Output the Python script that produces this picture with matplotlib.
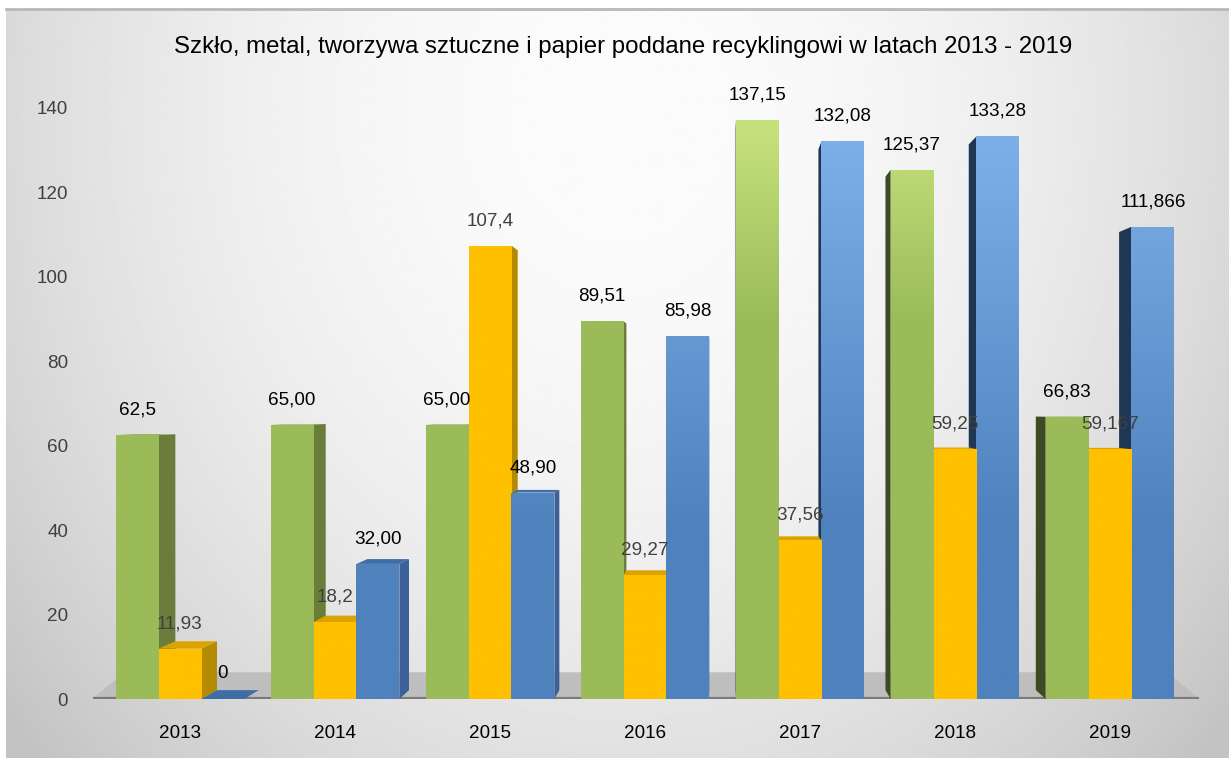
import numpy as np
import matplotlib
matplotlib.use('Agg')
import matplotlib.pyplot as plt
from matplotlib.patches import Polygon
from matplotlib.colors import to_rgb

# data
years = ['2013', '2014', '2015', '2016', '2017', '2018', '2019']
green_vals = [62.5, 65.00, 65.00, 89.51, 137.15, 125.37, 66.83]
yellow_vals = [11.93, 18.2, 107.4, 29.27, 37.56, 59.25, 59.167]
blue_vals = [0, 32.00, 48.90, 85.98, 132.08, 133.28, 111.866]
green_lbls = ['62,5', '65,00', '65,00', '89,51', '137,15', '125,37', '66,83']
yellow_lbls = ['11,93', '18,2', '107,4', '29,27', '37,56', '59,25', '59,167']
blue_lbls = ['0', '32,00', '48,90', '85,98', '132,08', '133,28', '111,866']
yticks = [0, 20, 40, 60, 80, 100, 120, 140]

plt.rcParams['font.family'] = ['Liberation Sans', 'DejaVu Sans']
fs = 13.6

W, H = 1229, 758
fig = plt.figure(figsize=(W / 100, H / 100), dpi=100)

# background with soft gradient, lighter at the top centre
bg = fig.add_axes([6 / W, 0, 1 - 6 / W, (H - 9) / H], zorder=-10)
gy, gx = np.mgrid[0:300, 0:400]
r2 = ((gx - 200) / 260.0) ** 2 + ((gy - 40) / 380.0) ** 2
shade = 0.985 - 0.22 * np.clip(r2, 0, 1)
bg.imshow(shade, cmap='gray', vmin=0, vmax=1, aspect='auto', extent=[0, 1, 1, 0],
          interpolation='bilinear')
bg.axis('off')
fig.add_artist(plt.Line2D([6 / W, 1], [1 - 9 / H, 1 - 9 / H], color='#b8b8b8', lw=2))

ax = fig.add_axes([93 / W, 59 / H, (1199 - 93) / W, (699 - 108) / H])
ax.patch.set_alpha(0)
x = np.arange(len(years))
x0, x1 = (93 - 180) / 155, (1199 - 180) / 155

# floor
ax.add_patch(Polygon([[0, 0], [1, 0], [0.971, 0.044], [0.029, 0.044]], closed=True,
                     transform=ax.transAxes, color='#bebebe', zorder=1))
ax.plot([0, 1], [0, 0], transform=ax.transAxes, color='#7a7a7a', lw=3, zorder=1.5,
        solid_capstyle='butt')

bw = 0.277
vp_x, eye, t = 3.48, 70, 0.03

series = [
    (green_vals, green_lbls, -bw, '#9bbb59', '#c8e47f', 90, 50, '#6a7d3a', '#3e4b22', '#8aa84a', 'black'),
    (yellow_vals, yellow_lbls, 0, '#ffc000', '#ffc000', 0, 1, '#b38a00', '#8a6a00', '#dba300', '#404040'),
    (blue_vals, blue_lbls, bw, '#4f81bd', '#80b3eb', 40, 100, '#3b6196', '#1f3654', '#3f6ea6', 'black'),
]

for vals, lbls, off, c0, c1, g0, gspan, side_l, side_r, top_c, lc in series:
    bars = ax.bar(x + off, vals, width=bw, color=c0, linewidth=0)
    a, b = np.array(to_rgb(c0)), np.array(to_rgb(c1))
    for xi, rect, v, lbl in zip(x + off, bars, vals, lbls):
        left, right = xi - bw / 2, xi + bw / 2
        z = 5 - abs(xi - vp_x) * 0.1
        rect.set_zorder(z)
        # vertical gradient on the front face
        if v > 0:
            ys = np.linspace(0, v, 60)
            f = np.clip((ys - g0) / gspan, 0, 1)[::-1]
            img = a[None, :] * (1 - f[:, None]) + b[None, :] * f[:, None]
            im = ax.imshow(img[:, None, :], extent=[left, right, 0, v], aspect='auto',
                           zorder=z, interpolation='bilinear')
            im.set_clip_path(rect)

        def back(px, py):
            return px + t * (vp_x - px), py + t * (eye - py)
        # side face facing the vanishing point
        if right < vp_x:
            ex, sc = right, side_l
        elif left > vp_x:
            ex, sc = left, side_r
        else:
            ex = None
        if ex is not None:
            pts = [(ex, 0), (ex, v), back(ex, v), back(ex, 0)]
            ax.add_patch(Polygon(pts, closed=True, color=sc, lw=0, zorder=z - 0.01))
        # top face when below eye level
        if v < eye:
            pts = [(left, v), (right, v), back(right, v), back(left, v)]
            ax.add_patch(Polygon(pts, closed=True, color=top_c, lw=0, zorder=z - 0.01))
        ax.annotate(lbl, (xi, v), xytext=(0, 18), textcoords='offset points',
                    ha='center', va='center', fontsize=fs, color=lc, zorder=20)

ax.set_xlim(x0, x1)
ax.set_ylim(0, 140)
ax.set_xticks(x)
ax.set_xticklabels(years, fontsize=fs, color='black')
ax.set_yticks(yticks)
ax.set_yticklabels([str(v) for v in yticks], fontsize=fs, color='#404040')
ax.tick_params(length=0)
ax.tick_params(axis='x', pad=19)
ax.tick_params(axis='y', pad=18)
for s in ax.spines.values():
    s.set_visible(False)

fig.text(623 / W, 1 - 47 / H,
         'Szkło, metal, tworzywa sztuczne i papier poddane recyklingowi w latach 2013 - 2019',
         ha='center', va='center', fontsize=17.3, color='black')

plt.savefig('out.png', dpi=100)
plt.close()
